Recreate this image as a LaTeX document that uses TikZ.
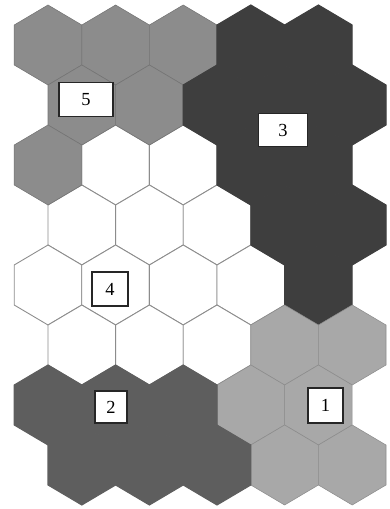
\documentclass[tikz,border=0pt]{standalone}
\usepackage{fontspec}
\setmainfont{Liberation Serif}
\usepackage{tikz}
\usetikzlibrary{patterns}
\definecolor{clusterOne}{RGB}{168, 168, 168}
\definecolor{clusterTwo}{RGB}{94, 94, 94}
\definecolor{clusterThree}{RGB}{62, 62, 62}
\definecolor{clusterFive}{RGB}{140, 140, 140}
\definecolor{cellEdge}{RGB}{140, 140, 140}

\begin{document}
\begin{tikzpicture}[
    x=0.02cm, y=-0.02cm,
    hexcell/.pic={\path[pic actions] (-33.8,-20) -- (-33.8,20) -- (0,40) -- (33.8,20) -- (33.8,-20) -- (0,-40) -- cycle;},
    emptycell/.style={fill=white, draw=cellEdge, line width=0.5pt},
    oneCell/.style={fill=clusterOne, draw=black!45, line width=0.3pt},
    twoCell/.style={fill=clusterTwo, draw=clusterTwo, line width=0.6pt},
    threeCell/.style={fill=clusterThree, draw=clusterThree, line width=0.6pt},
    fiveCell/.style={fill=clusterFive, draw=black!55, line width=0.3pt},
    tag/.style={rectangle, draw=black!85, line width=0.8pt, fill=white, inner sep=0pt, font=\fontsize{10.5}{12}\selectfont}
]
    \useasboundingbox (0,0) rectangle (389,509);

    % White cells (cluster 4)
    \foreach \cx/\cy in {115.6/165, 183.2/165, 81.8/225, 149.4/225, 217/225,
                         48/285, 115.6/285, 183.2/285, 250.8/285,
                         81.8/345, 149.4/345, 217/345}
        \pic[emptycell] at (\cx,\cy) {hexcell};

    % Cluster 5 (top left)
    \foreach \cx/\cy in {48/45, 115.6/45, 183.2/45, 81.8/105, 149.4/105, 48/165}
        \pic[fiveCell] at (\cx,\cy) {hexcell};

    % Cluster 3 (top right)
    \foreach \cx/\cy in {250.8/45, 318.4/45, 217/105, 284.6/105, 352.2/105,
                         250.8/165, 318.4/165, 284.6/225, 352.2/225, 318.4/285}
        \pic[threeCell] at (\cx,\cy) {hexcell};

    % Cluster 1 (bottom right)
    \foreach \cx/\cy in {284.6/345, 352.2/345, 250.8/405, 318.4/405, 284.6/465, 352.2/465}
        \pic[oneCell, postaction={pattern=grid, pattern color=black!12}] at (\cx,\cy) {hexcell};

    % Cluster 2 (bottom left)
    \foreach \cx/\cy in {48/405, 115.6/405, 183.2/405, 81.8/465, 149.4/465, 217/465}
        \pic[twoCell, postaction={pattern=vertical lines, pattern color=black!20}] at (\cx,\cy) {hexcell};

    % Cluster labels
    \node[tag, minimum width=1.08cm, minimum height=0.68cm] (lab5) at (86,99.5) {5};
    \node[tag, minimum width=0.98cm, minimum height=0.66cm] (lab3) at (283,130) {3};
    \node[tag, minimum width=0.72cm, minimum height=0.68cm] (lab4) at (110,289) {4};
    \node[tag, minimum width=0.64cm, minimum height=0.64cm] (lab2) at (111,407) {2};
    \node[tag, minimum width=0.70cm, minimum height=0.70cm] (lab1) at (325.5,405.5) {1};
\end{tikzpicture}
\end{document}
